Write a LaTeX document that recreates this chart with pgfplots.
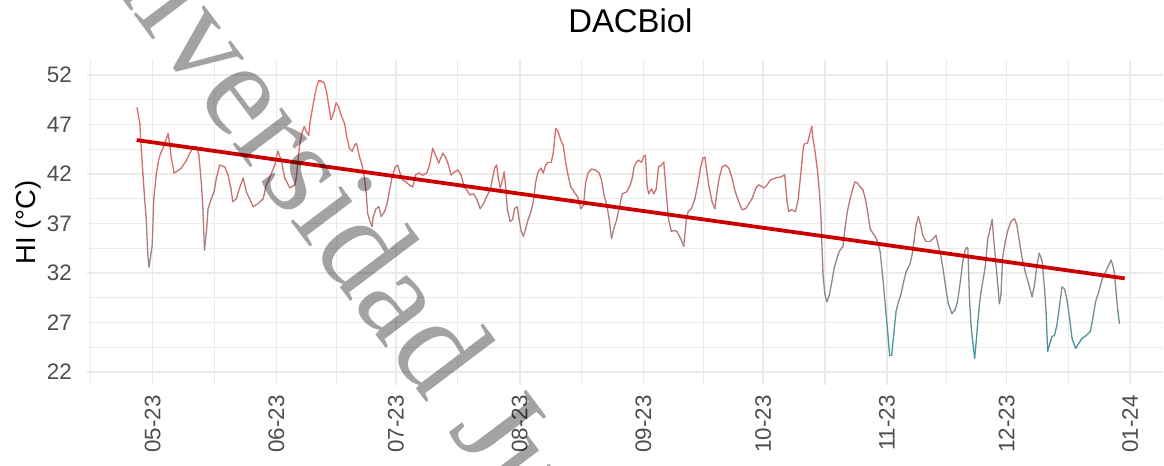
\documentclass[border=0pt]{standalone}
\usepackage{fontspec}
\setmainfont{Liberation Sans}
\newfontfamily\wmfont{Liberation Serif}
\usepackage{pgfplots}
\pgfplotsset{compat=1.18}
\usepackage{pgfplotstable}
\definecolor{gridc}{RGB}{235,235,235}
\definecolor{ticklab}{RGB}{77,77,77}
\definecolor{trend}{RGB}{204,0,0}
\pgfplotstableread{
d v
116.1 48.7
116.8 47.1
117.2 44.3
117.6 41.9
118.0 39.5
118.4 37.5
118.8 33.8
119.1 32.6
119.5 33.7
119.9 34.8
120.3 39.5
120.9 41.9
121.5 43.4
122.0 44.1
122.6 44.6
123.2 45.3
123.9 46.1
124.3 44.9
124.7 43.6
125.4 42.1
126.2 42.3
127.2 42.6
128.5 43.4
129.3 44.1
130.3 44.8
131.0 44.8
131.6 43.9
132.2 41.2
132.6 38.5
133.0 34.3
133.5 36.2
133.9 38.5
134.7 39.5
135.4 40.2
136.0 41.6
136.8 42.9
138.1 42.7
138.9 41.9
139.6 40.6
140.1 39.2
141.0 39.5
141.8 40.6
142.7 41.6
143.5 40.2
144.3 39.5
145.2 38.7
146.4 39.0
147.7 39.5
148.5 40.9
149.3 41.6
150.6 42.9
151.4 44.3
152.3 43.3
153.1 41.6
154.4 40.6
155.6 40.9
156.0 41.6
156.4 43.2
156.8 44.8
157.4 46.1
158.0 46.8
158.4 46.4
159.1 45.9
159.4 47.1
159.9 48.3
160.5 49.6
161.1 50.8
161.6 51.4
162.2 51.4
163.0 51.2
163.6 50.3
164.1 49.0
164.7 47.5
165.3 48.1
166.0 49.2
166.6 48.8
167.2 48.0
168.1 47.1
168.6 45.9
169.3 44.6
170.0 44.3
170.6 44.9
171.1 45.1
171.8 43.8
172.5 42.9
173.1 41.6
173.5 40.2
173.9 38.0
174.5 37.2
175.0 36.7
175.3 37.7
176.0 38.5
176.7 38.7
177.3 37.7
178.1 38.2
178.7 38.9
179.3 40.2
180.0 41.7
180.8 42.7
181.4 42.9
182.0 42.1
182.7 41.4
183.5 41.2
184.3 40.9
185.2 40.7
185.9 41.9
186.7 42.1
187.7 41.9
188.7 42.1
189.4 42.9
190.2 44.6
190.9 43.9
191.7 43.1
192.7 44.1
193.4 43.7
194.0 43.1
194.8 41.9
195.6 42.2
196.5 42.4
197.3 41.9
198.1 40.7
198.7 40.4
199.5 39.9
200.4 40.0
201.2 39.5
202.1 38.5
202.9 39.0
203.7 39.7
204.6 40.4
205.2 41.6
205.7 42.6
206.2 42.9
206.6 41.7
207.1 40.6
207.7 41.4
208.1 42.2
208.5 40.6
208.9 38.4
209.6 37.2
210.2 37.4
210.7 38.5
211.4 38.7
211.8 37.5
212.4 36.2
212.9 35.7
213.5 36.5
214.1 37.4
214.8 38.2
215.4 39.2
216.0 41.2
216.6 42.2
217.3 42.6
217.9 42.1
218.5 42.9
219.1 43.2
219.9 43.2
220.4 44.1
221.0 46.6
221.6 46.3
222.3 45.4
222.9 44.9
223.5 43.2
224.1 41.9
224.8 40.7
225.6 40.2
226.5 39.7
227.3 38.5
228.0 38.9
228.5 41.1
229.1 42.1
230.0 42.5
231.0 42.4
231.9 42.1
232.5 41.4
233.1 39.9
233.8 38.9
234.4 37.5
235.0 35.5
235.6 36.5
236.3 37.4
236.9 38.5
237.7 40.0
238.8 40.2
239.7 40.9
240.2 41.6
240.6 42.6
241.2 43.2
241.8 43.4
242.5 43.2
243.1 43.8
243.5 43.9
243.9 40.9
244.3 40.0
245.0 40.5
245.6 40.0
246.2 40.5
246.8 42.7
247.5 42.9
248.1 43.2
248.7 40.2
249.3 37.4
250.0 36.2
250.6 36.3
251.4 36.2
252.3 35.5
253.1 34.7
253.7 37.2
254.2 38.2
255.0 38.5
255.9 39.5
256.7 41.1
257.3 42.6
257.9 43.6
258.4 43.7
259.0 41.9
259.5 40.6
260.2 39.2
260.9 38.5
261.5 40.4
262.0 41.6
262.7 42.7
263.5 42.9
264.4 42.6
265.2 41.6
266.0 40.2
266.9 39.2
267.7 38.4
268.6 38.5
269.4 39.0
270.2 39.5
271.2 40.6
271.9 40.9
273.2 40.6
274.0 40.9
274.8 41.4
276.1 41.6
277.3 41.7
278.4 41.9
279.0 39.2
279.4 38.2
280.1 38.4
281.1 38.2
281.8 39.5
282.3 41.5
282.7 43.2
283.1 44.8
283.5 45.1
284.1 45.1
284.6 45.9
285.2 46.8
285.4 45.8
286.0 44.3
286.6 42.4
287.1 40.2
287.5 37.5
288.0 31.8
288.5 29.8
289.0 29.1
289.6 29.8
290.2 31.1
290.8 32.5
291.5 33.5
292.1 34.2
293.0 34.7
293.5 36.5
294.1 38.2
294.8 39.5
295.5 40.6
296.0 41.2
296.6 41.1
297.3 40.7
298.0 40.4
298.6 39.5
299.1 38.4
299.8 36.5
300.5 36.0
301.1 35.7
301.6 35.2
302.3 34.2
303.0 31.5
303.6 28.8
304.2 26.1
304.7 23.7
305.2 23.7
305.8 26.1
306.3 28.1
306.9 29.1
307.5 29.8
308.2 31.1
308.8 32.1
309.7 32.8
310.3 33.8
310.8 35.2
311.3 36.8
311.9 37.7
312.5 36.8
313.0 35.8
313.8 35.2
314.8 35.2
315.7 35.5
316.3 35.8
316.9 34.8
317.5 33.8
318.2 32.1
318.9 30.1
319.4 28.9
320.3 27.9
321.1 28.3
321.7 29.1
322.4 31.1
323.0 33.1
323.6 34.3
324.0 34.6
324.3 34.5
324.7 29.4
325.1 26.7
325.5 25.1
326.0 23.4
326.4 25.1
326.8 27.1
327.2 28.8
327.6 30.1
328.2 31.5
328.7 32.8
329.3 35.5
329.9 36.5
330.4 37.4
330.7 35.8
331.2 33.5
331.8 30.8
332.2 28.9
332.6 29.8
333.0 33.5
333.7 35.2
334.3 36.3
335.1 37.2
336.0 37.5
336.6 36.8
337.2 35.2
337.9 33.5
338.7 32.1
339.6 30.8
340.4 29.6
341.0 30.8
341.6 32.8
342.2 34.0
342.9 33.2
343.5 30.5
343.9 28.1
344.3 24.1
344.7 24.7
345.4 25.6
346.0 25.7
346.6 26.7
347.3 28.8
347.9 30.6
348.5 30.4
349.1 29.4
349.8 27.4
350.4 25.4
351.3 24.4
352.1 24.9
352.9 25.4
354.0 25.7
355.0 26.1
355.6 27.4
356.3 29.1
357.1 30.1
357.9 31.3
358.8 32.1
359.6 32.8
360.2 33.3
360.6 32.8
361.0 32.1
361.5 29.8
361.9 28.1
362.3 26.9
}\hidata
\begin{document}
\begin{tikzpicture}
\begin{axis}[
  at={(0,0)}, anchor=south west,
  scale only axis, width=1076bp, height=325bp,
  xmin=103.56, xmax=373.2, ymin=20.69, ymax=53.52,
  xtick={120,151,181,212,243,273,304,334,365},
  xticklabels={05-23,06-23,07-23,08-23,09-23,10-23,11-23,12-23,01-24},
  minor xtick={104.5,135.5,166,196.5,227.5,258,288.5,319,349.5},
  ytick={22,27,...,52},
  minor ytick={24.5,29.5,...,49.5},
  grid=both,
  major grid style={draw=gridc, line width=1.6bp},
  minor grid style={draw=gridc, line width=1.1bp},
  axis line style={draw=none},
  major tick length=0pt, minor tick length=0pt,
  tick style={draw=none},
  xticklabel style={rotate=90, anchor=east, inner xsep=10bp, inner ysep=0pt, font=\fontsize{22.5}{22.5}\selectfont, text=ticklab},
  yticklabel style={anchor=east, inner xsep=15bp, inner ysep=0pt, font=\fontsize{22.5}{22.5}\selectfont, text=ticklab},
  /pgf/number format/assume math mode=true,
  ylabel={HI (°C)},
  ylabel style={at={(axis description cs:-0.0548,0.5)}, anchor=center, font=\fontsize{27.5}{27.5}\selectfont},
  title={DACBiol},
  title style={at={(axis description cs:0.505,1)}, anchor=base, yshift=22bp, font=\fontsize{33}{33}\selectfont},
  colormap={hi}{rgb255(0cm)=(50,150,160); rgb255(7cm)=(130,140,145); rgb255(13cm)=(170,125,125); rgb255(19cm)=(205,110,110); rgb255(28cm)=(240,105,105)},
  point meta min=23, point meta max=51,
]
\addplot[mesh, point meta=y, line width=1.3bp, line join=round, line cap=round] table[x=d, y=v] {\hidata};
\addplot[color=trend, line width=3.8bp] coordinates {(116.0,45.43) (363.6,31.46)};
\end{axis}
\node[overlay, rotate=-53, anchor=base west, inner sep=0pt, text=black, opacity=0.36, font=\wmfont\fontsize{134}{134}\selectfont] at (-52.4bp,502.8bp) {Universidad Juárez Autónoma de Tabasco};
\pgfresetboundingbox
\path[use as bounding box] (-87bp,-81bp) rectangle (1077bp,385bp);
\end{tikzpicture}
\end{document}
